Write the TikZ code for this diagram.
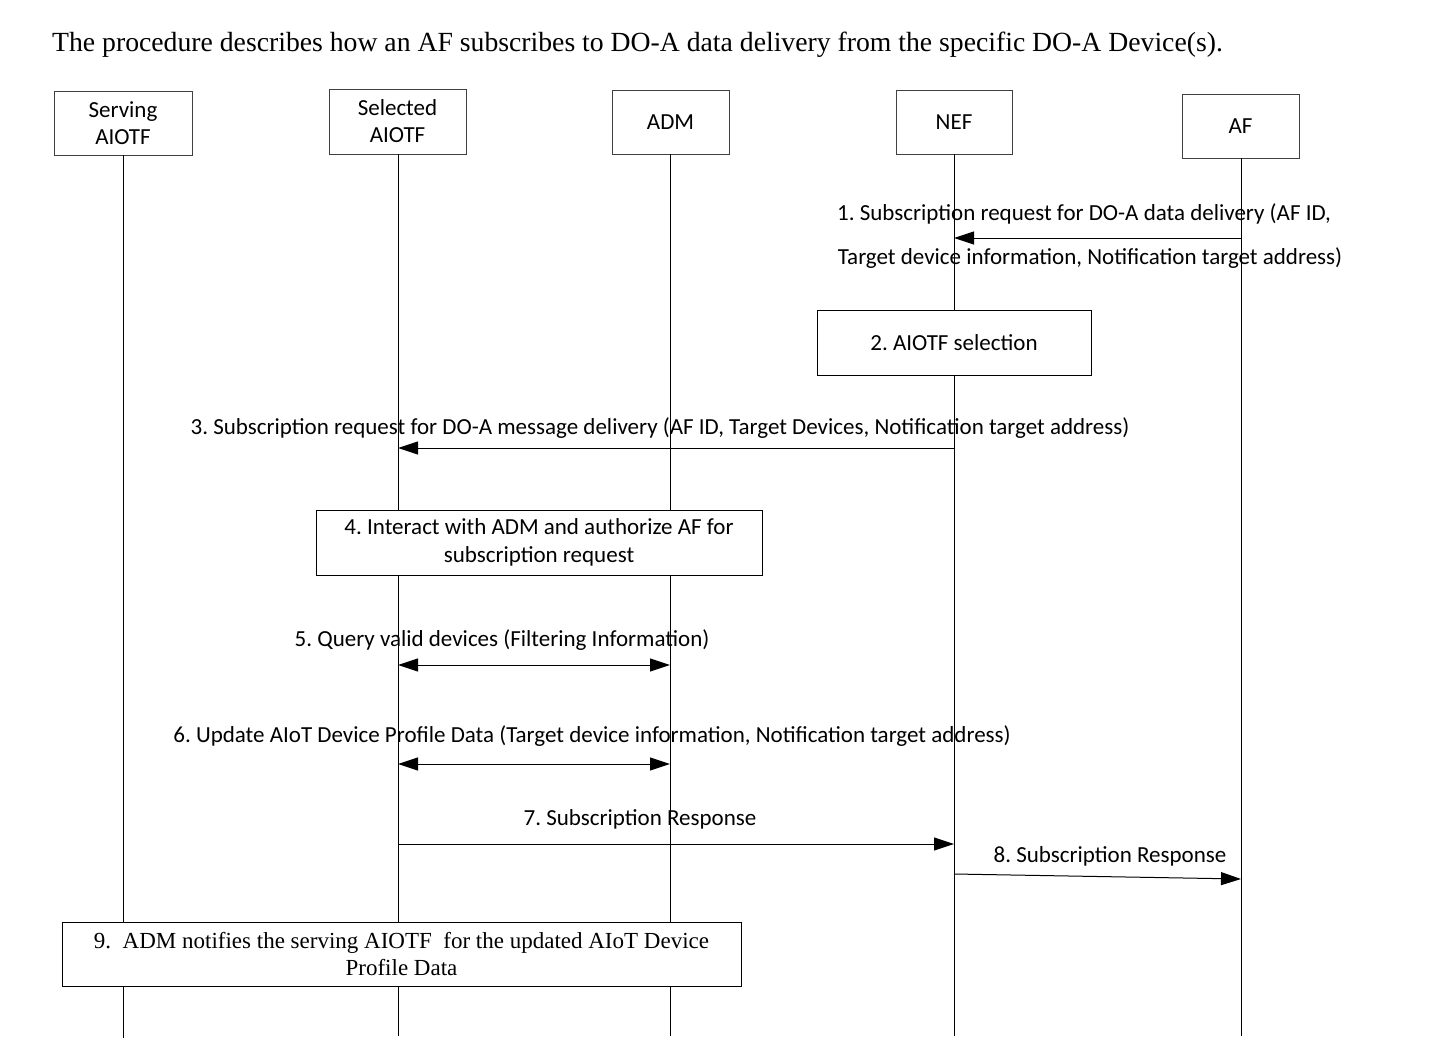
\documentclass[tikz,border=0pt]{standalone}
\usepackage{fontspec}
\setmainfont{Liberation Serif}
\newfontfamily\calib{Carlito}
\usetikzlibrary{arrows.meta}
\begin{document}
\frenchspacing
\begin{tikzpicture}[x=1pt,y=-1pt,
  actor/.style={draw=black!75, fill=white, line width=0.8pt, align=center, font=\calib\fontsize{23}{27}\selectfont, inner sep=0pt},
  life/.style={line width=1pt},
  stepbox/.style={draw, fill=white, line width=1pt, align=center, inner sep=0pt, font=\calib\fontsize{23}{28}\selectfont},
  lbl/.style={font=\calib\fontsize{23}{26}\selectfont, inner sep=0pt},
  msg/.style={line width=1pt, -{Triangle[length=20pt,width=13pt]}},
  dmsg/.style={line width=1pt, {Triangle[length=20pt,width=13pt]}-{Triangle[length=20pt,width=13pt]}}
]
\useasboundingbox (0,0) rectangle (1440,1054);

\node[font=\fontsize{27.7}{32}\selectfont, anchor=west, inner sep=0pt] (cap) at (52,45) {The procedure describes how an AF subscribes to DO-A data delivery from the specific DO-A Device(s).};

% actors
\node[actor, minimum width=138pt, minimum height=64pt] (sv) at (123,123) {Serving\\AIOTF};
\node[actor, minimum width=137pt, minimum height=65pt] (se) at (397.5,121.5) {Selected\\AIOTF};
\node[actor, minimum width=117pt, minimum height=64pt] (adm) at (670.5,122) {ADM};
\node[actor, minimum width=116pt, minimum height=64pt] (nef) at (954,122) {NEF};
\node[actor, minimum width=117pt, minimum height=64pt] (af) at (1240.5,126) {AF};

% lifeline ends
\coordinate (svE) at (123,1038);
\coordinate (seE) at (398,1036);
\coordinate (admE) at (670,1036);
\coordinate (nefE) at (954,1036);
\coordinate (afE) at (1241,1036);
\draw[life] (sv.south) -- (svE);
\draw[life] (se.south -| seE) -- (seE);
\draw[life] (adm.south -| admE) -- (admE);
\draw[life] (nef.south) -- (nefE);
\draw[life] (af.south -| afE) -- (afE);

% 1
\coordinate (m1s) at (1241,238);
\coordinate (m1e) at (954,238);
\draw[msg] (m1s) -- (m1e);
\node[lbl] (l1a) at (1084,214) {1. Subscription request for DO-A data delivery (AF ID,};
\node[lbl] (l1b) at (1090,258) {Target device information, Notification target address)};

% 2
\node[stepbox, minimum width=274pt, minimum height=65pt] (b2) at (954,342.5) {2. AIOTF selection};

% 3
\coordinate (m3s) at (954,448);
\coordinate (m3e) at (398,448);
\draw[msg] (m3s) -- (m3e);
\node[lbl] (l3) at (660,428) {3. Subscription request for DO-A message delivery (AF ID, Target Devices, Notification target address)};

% 4
\node[stepbox, minimum width=446pt, minimum height=65pt] (b4) at (539,542.5) {4. Interact with ADM and authorize AF for\\subscription request};

% 5
\coordinate (m5s) at (398,665);
\coordinate (m5e) at (670,665);
\draw[dmsg] (m5s) -- (m5e);
\node[lbl] (l5) at (502,640) {5. Query valid devices (Filtering Information)};

% 6
\coordinate (m6s) at (398,764);
\coordinate (m6e) at (670,764);
\draw[dmsg] (m6s) -- (m6e);
\node[lbl] (l6) at (592,736) {6. Update AIoT Device Profile Data (Target device information, Notification target address)};

% 7
\coordinate (m7s) at (398,844);
\coordinate (m7e) at (954,844);
\draw[msg] (m7s) -- (m7e);
\node[lbl] (l7) at (640,819) {7. Subscription Response};

% 8
\coordinate (m8s) at (954,874);
\coordinate (m8e) at (1241,879);
\draw[msg] (m8s) -- (m8e);
\node[lbl] (l8) at (1110,856) {8. Subscription Response};

% 9
\node[stepbox, font=\fontsize{23}{27}\selectfont, minimum width=679pt, minimum height=64pt] (b9) at (401.5,954) {9.\ \ ADM notifies the serving AIOTF\ \ for the updated AIoT Device\\Profile Data};
\end{tikzpicture}
\end{document}
